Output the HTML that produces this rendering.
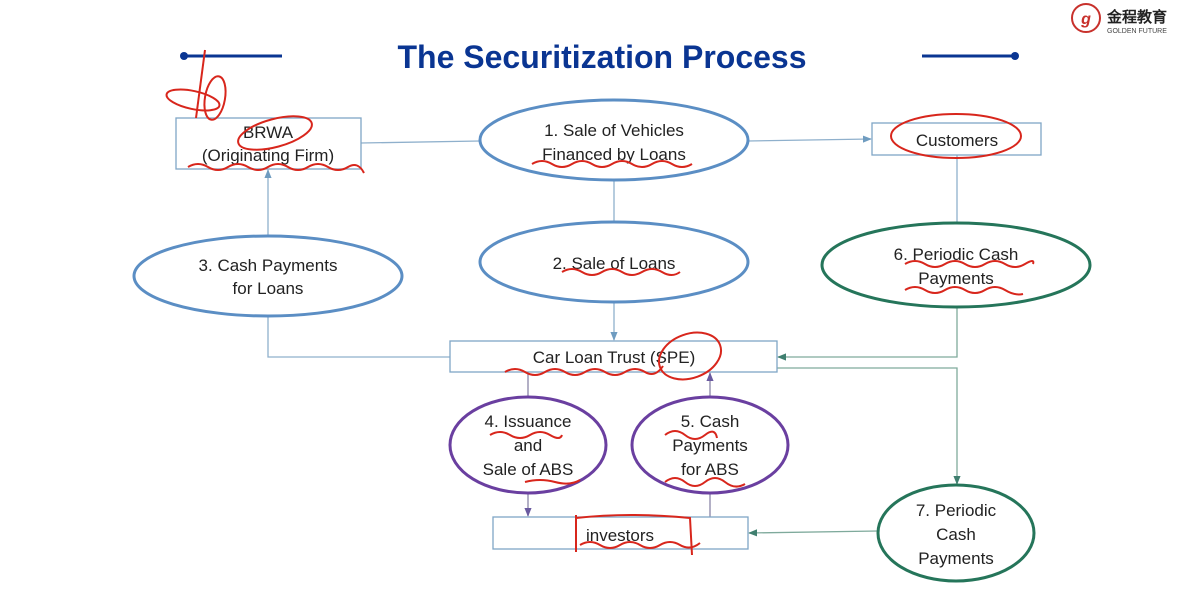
<!DOCTYPE html>
<html><head><meta charset="utf-8"><style>
html,body{margin:0;padding:0;background:#fff;}
svg{display:block;}
text{font-family:"Liberation Sans","DejaVu Sans",sans-serif;}
</style></head><body>
<svg width="1200" height="600" viewBox="0 0 1200 600" xmlns="http://www.w3.org/2000/svg">
<defs>
<marker id="a" viewBox="0 0 10 10" refX="9" refY="5" markerWidth="7" markerHeight="7" orient="auto"><path d="M0,1 L10,5 L0,9 z" fill="#6f9cc0"/></marker>
<marker id="g" viewBox="0 0 10 10" refX="9" refY="5" markerWidth="7" markerHeight="7" orient="auto"><path d="M0,1 L10,5 L0,9 z" fill="#3f7f6f"/></marker>
<marker id="p" viewBox="0 0 10 10" refX="9" refY="5" markerWidth="7" markerHeight="7" orient="auto"><path d="M0,1 L10,5 L0,9 z" fill="#6a5aa0"/></marker>
</defs>
<rect width="1200" height="600" fill="#fff"/>
<circle cx="1086" cy="18" r="14" fill="#fff" stroke="#c8312c" stroke-width="2"/>
<text x="1086" y="24" font-size="16" font-style="italic" font-weight="bold" fill="#c8312c" text-anchor="middle">g</text>
<text x="1107" y="22" font-size="15" font-weight="bold" fill="#222" font-family="'Noto Sans CJK SC',sans-serif">金程教育</text>
<text x="1107" y="33" font-size="7" fill="#444">GOLDEN FUTURE</text>
<line x1="183" y1="56" x2="282" y2="56" stroke="#0a3592" stroke-width="3"/>
<circle cx="184" cy="56" r="4" fill="#0a3592"/>
<line x1="922" y1="56" x2="1015" y2="56" stroke="#0a3592" stroke-width="3"/>
<circle cx="1015" cy="56" r="4" fill="#0a3592"/>
<text x="602" y="68" font-size="32" font-weight="bold" fill="#0a3592" text-anchor="middle">The Securitization Process</text>
<g stroke="#8fb0cc" stroke-width="1.3" fill="none">
<line x1="361" y1="143" x2="480" y2="141"/>
<line x1="748" y1="141" x2="871" y2="139" marker-end="url(#a)"/>
<line x1="614" y1="180" x2="614" y2="222"/>
<line x1="614" y1="302" x2="614" y2="340" marker-end="url(#a)"/>
<line x1="957" y1="155" x2="957" y2="223"/>
<polyline points="957,307 957,357 778,357" stroke="#7faa9c" marker-end="url(#g)"/>
<polyline points="450,357 268,357 268,316"/>
<line x1="268" y1="236" x2="268" y2="170" marker-end="url(#a)"/>
<line x1="528" y1="372" x2="528" y2="397" stroke="#8a86a8"/>
<line x1="528" y1="493" x2="528" y2="516" stroke="#8a86a8" marker-end="url(#p)"/>
<line x1="710" y1="517" x2="710" y2="493" stroke="#8a86a8"/>
<line x1="710" y1="397" x2="710" y2="373" stroke="#8a86a8" marker-end="url(#p)"/>
<polyline points="777,368 957,368 957,484" stroke="#7faa9c" marker-end="url(#g)"/>
<line x1="878" y1="531" x2="749" y2="533" stroke="#7faa9c" marker-end="url(#g)"/>
</g>
<g fill="#fff" stroke="#7fa6c6" stroke-width="1.3">
<rect x="176" y="118" width="185" height="51"/>
<rect x="872" y="123" width="169" height="32"/>
<rect x="450" y="341" width="327" height="31"/>
<rect x="493" y="517" width="255" height="32"/>
</g>
<g fill="#fff" stroke-width="3">
<ellipse cx="614" cy="140" rx="134" ry="40" stroke="#5b8ec4"/>
<ellipse cx="614" cy="262" rx="134" ry="40" stroke="#5b8ec4"/>
<ellipse cx="268" cy="276" rx="134" ry="40" stroke="#5b8ec4"/>
<ellipse cx="956" cy="265" rx="134" ry="42" stroke="#25755a"/>
<ellipse cx="528" cy="445" rx="78" ry="48" stroke="#6a3fa0"/>
<ellipse cx="710" cy="445" rx="78" ry="48" stroke="#6a3fa0"/>
<ellipse cx="956" cy="533" rx="78" ry="48" stroke="#25755a"/>
</g>
<g font-size="17" fill="#222" text-anchor="middle">
<text x="268" y="138">BRWA</text>
<text x="268" y="161">(Originating Firm)</text>
<text x="957" y="146">Customers</text>
<text x="614" y="136">1. Sale of Vehicles</text>
<text x="614" y="160">Financed by Loans</text>
<text x="614" y="269">2. Sale of Loans</text>
<text x="268" y="271">3. Cash Payments</text>
<text x="268" y="294">for Loans</text>
<text x="956" y="260">6. Periodic Cash</text>
<text x="956" y="284">Payments</text>
<text x="614" y="363">Car Loan Trust (SPE)</text>
<text x="528" y="427">4. Issuance</text>
<text x="528" y="451">and</text>
<text x="528" y="475">Sale of ABS</text>
<text x="710" y="427">5. Cash</text>
<text x="710" y="451">Payments</text>
<text x="710" y="475">for ABS</text>
<text x="620" y="541">investors</text>
<text x="956" y="516">7. Periodic</text>
<text x="956" y="540">Cash</text>
<text x="956" y="564">Payments</text>
</g>
<g fill="none" stroke="#d8261c" stroke-width="2">
<path d="M205,50 L196,118"/>
<ellipse cx="215" cy="98" rx="10" ry="22" transform="rotate(10 215 98)"/>
<ellipse cx="193" cy="100" rx="27" ry="9" transform="rotate(12 193 100)"/>
<ellipse cx="275" cy="133" rx="38" ry="14" transform="rotate(-15 275 133)"/>
<path d="M188,167 q10,-6 20,0 t20,0 t20,0 t20,0 t20,0 t20,0 t20,0 t20,0 t16,6"/>
<path d="M532,164 q10,-6 20,0 t20,0 t20,0 t20,0 t20,0 t20,0 t20,0 t20,0"/>
<ellipse cx="956" cy="136" rx="65" ry="22"/>
<path d="M562,272 q10,-6 20,0 t20,0 t20,0 t20,0 t20,0 t18,0"/>
<path d="M905,264 q10,-6 20,0 t20,0 t20,0 t20,0 t20,0 t20,0 t8,0"/>
<path d="M905,290 q10,-6 20,0 t20,0 t20,0 t20,0 t20,0 t18,4"/>
<path d="M505,372 q10,-6 20,0 t20,0 t20,0 t20,0 t20,0 t20,0 t20,0 t18,-6"/>
<ellipse cx="690" cy="356" rx="32" ry="22" transform="rotate(-20 690 356)"/>
<path d="M490,435 q10,-6 20,0 t20,0 t20,0 t12,0"/>
<path d="M525,482 q15,-4 30,0 t25,-2"/>
<path d="M665,435 q10,-8 20,0 t20,0 t12,3"/>
<path d="M665,482 q10,-8 20,0 t20,0 t20,0 t20,2"/>
<path d="M576,515 L576,552 M576,518 Q630,512 690,518 L692,555"/>
<path d="M580,545 q10,-6 20,0 t20,0 t20,0 t20,0 t20,0 t20,-2"/>
</g>
</svg>
</body></html>
